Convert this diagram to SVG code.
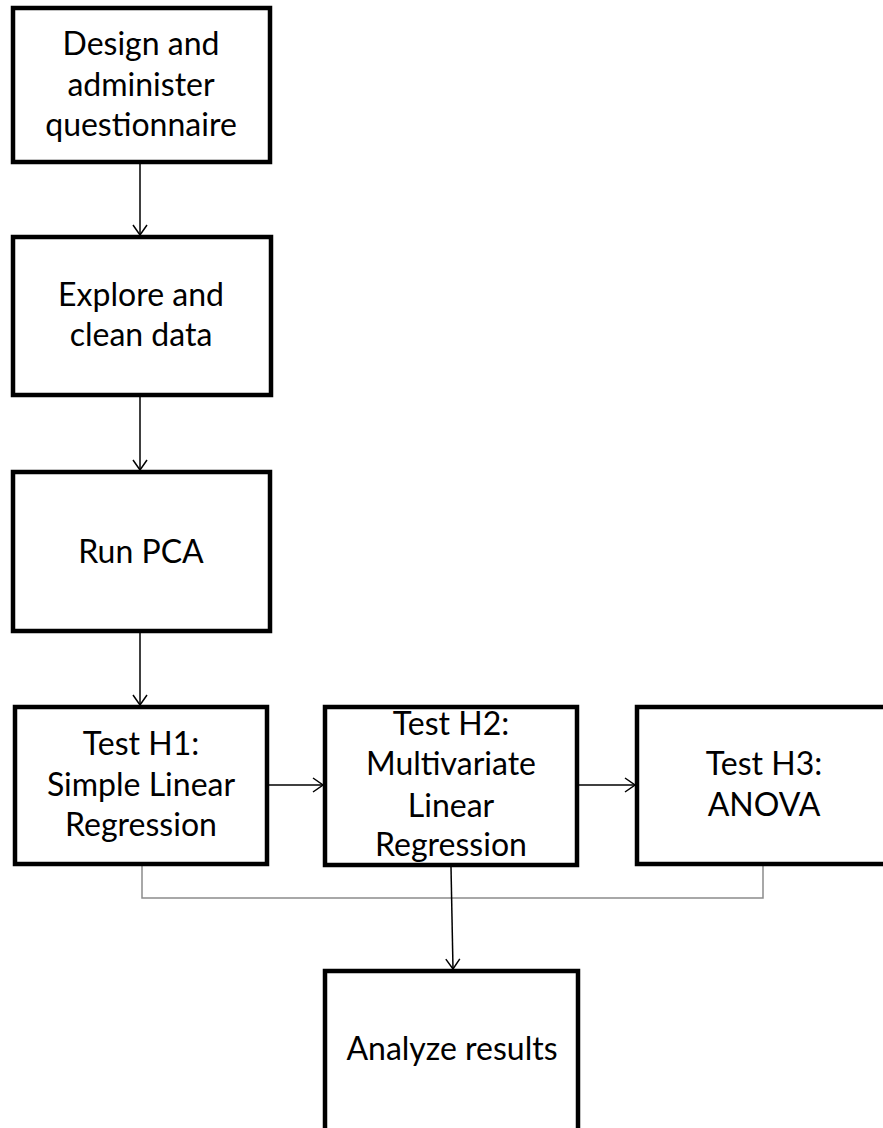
<svg xmlns="http://www.w3.org/2000/svg" width="883" height="1128" viewBox="0 0 883 1128">
  <style>
    .box { fill: #ffffff; stroke: #000000; stroke-width: 4.5; }
    .lbl { font-family: Lato, "Liberation Sans", sans-serif; font-size: 32px; fill: #000000; text-anchor: middle; }
    .arrow { fill: none; stroke: #000000; stroke-width: 1.5; marker-end: url(#head); }
    .gray { fill: none; stroke: #8c8c8c; stroke-width: 1.5; }
  </style>
  <defs>
    <marker id="head" viewBox="0 0 12 16" refX="11" refY="8" markerWidth="12" markerHeight="16" markerUnits="userSpaceOnUse" orient="auto">
      <path d="M1,1 L11,8 L1,15" fill="none" stroke="#000000" stroke-width="1.5"/>
    </marker>
  </defs>
  <rect width="883" height="1128" fill="#ffffff"/>

  <g id="connectors">
    <polyline class="gray" points="142,866 142,898 763,898 763,866"/>
    <line class="arrow" x1="140" y1="164" x2="140" y2="235"/>
    <line class="arrow" x1="140" y1="397" x2="140" y2="470"/>
    <line class="arrow" x1="140" y1="633" x2="140" y2="705"/>
    <line class="arrow" x1="269" y1="785" x2="323" y2="785"/>
    <line class="arrow" x1="579" y1="785" x2="635" y2="785"/>
    <line class="arrow" x1="451" y1="867" x2="453" y2="969"/>
  </g>

  <g id="design">
    <rect class="box" x="13" y="8" width="257" height="154"/>
    <text class="lbl" x="141" y="55">Design and</text>
    <text class="lbl" x="141" y="96">administer</text>
    <text class="lbl" x="141" y="136">questionnaire</text>
  </g>

  <g id="explore">
    <rect class="box" x="13" y="237" width="258" height="158"/>
    <text class="lbl" x="141" y="306">Explore and</text>
    <text class="lbl" x="141" y="346">clean data</text>
  </g>

  <g id="pca">
    <rect class="box" x="13" y="472" width="257" height="159"/>
    <text class="lbl" x="141" y="563">Run PCA</text>
  </g>

  <g id="h1">
    <rect class="box" x="15" y="707" width="252" height="157"/>
    <text class="lbl" x="141" y="755">Test H1:</text>
    <text class="lbl" x="141" y="796">Simple Linear</text>
    <text class="lbl" x="141" y="836">Regression</text>
  </g>

  <g id="h2">
    <rect class="box" x="325" y="707" width="252" height="158"/>
    <text class="lbl" x="451" y="735">Test H2:</text>
    <text class="lbl" x="451" y="775">Multivariate</text>
    <text class="lbl" x="451" y="817">Linear</text>
    <text class="lbl" x="451" y="856">Regression</text>
  </g>

  <g id="h3">
    <rect class="box" x="637" y="707" width="260" height="157"/>
    <text class="lbl" x="764" y="775">Test H3:</text>
    <text class="lbl" x="764" y="816">ANOVA</text>
  </g>

  <g id="analyze">
    <rect class="box" x="325" y="971" width="253" height="170"/>
    <text class="lbl" x="452" y="1060">Analyze results</text>
  </g>
</svg>
